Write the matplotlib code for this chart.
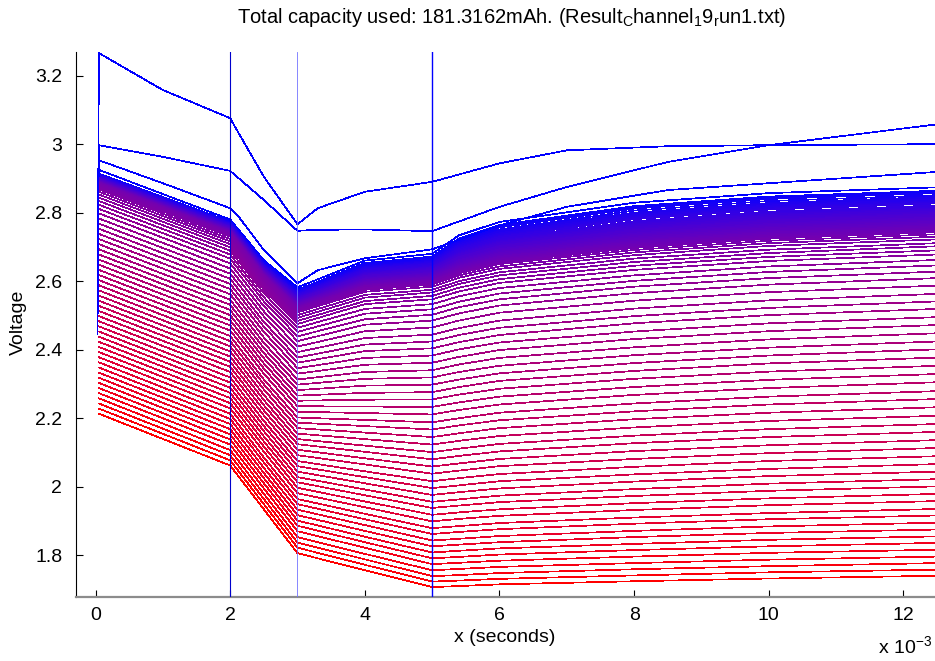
import numpy as np
import matplotlib.pyplot as plt

plt.rcParams["font.family"] = ["Liberation Sans", "DejaVu Sans"]

# sample times of the pulse curves (ms)
t_band = [0.05, 2.0, 2.5, 3.0, 4.0, 5.0, 5.4, 6.0, 8.0, 10.0, 12.5]

# voltage of each pulse curve at those times, first cycle (blue) to last (red)
v_start = [2.925, 2.914, 2.913, 2.912, 2.911, 2.910, 2.909, 2.908, 2.907, 2.906,
           2.905, 2.904, 2.903, 2.902, 2.901, 2.900, 2.899, 2.898, 2.897, 2.896,
           2.895, 2.894, 2.893, 2.892, 2.891, 2.890, 2.889, 2.888, 2.887, 2.886,
           2.883, 2.879, 2.874, 2.868, 2.861, 2.853, 2.844, 2.834, 2.823, 2.811,
           2.798, 2.783, 2.768, 2.753, 2.738, 2.723, 2.708, 2.693, 2.678, 2.663,
           2.648, 2.633, 2.618, 2.603, 2.588, 2.573, 2.558, 2.543, 2.528, 2.513,
           2.498, 2.483, 2.468, 2.453, 2.438, 2.423, 2.408, 2.393, 2.378, 2.363,
           2.348, 2.333, 2.318, 2.303, 2.288, 2.273, 2.258, 2.243, 2.228, 2.213]
v_2ms = [2.780, 2.774, 2.773, 2.772, 2.770, 2.769, 2.768, 2.767, 2.766, 2.765,
         2.764, 2.762, 2.761, 2.760, 2.759, 2.758, 2.757, 2.756, 2.754, 2.753,
         2.752, 2.751, 2.750, 2.749, 2.748, 2.747, 2.745, 2.744, 2.743, 2.742,
         2.739, 2.735, 2.730, 2.723, 2.716, 2.708, 2.699, 2.689, 2.678, 2.666,
         2.652, 2.637, 2.622, 2.607, 2.592, 2.577, 2.562, 2.546, 2.531, 2.516,
         2.501, 2.486, 2.471, 2.456, 2.440, 2.425, 2.410, 2.395, 2.380, 2.365,
         2.350, 2.335, 2.319, 2.304, 2.289, 2.274, 2.259, 2.244, 2.229, 2.213,
         2.198, 2.183, 2.168, 2.153, 2.138, 2.123, 2.107, 2.092, 2.077, 2.062]
v_2p5ms = [2.661, 2.655, 2.654, 2.653, 2.650, 2.649, 2.648, 2.647, 2.646, 2.644,
           2.644, 2.641, 2.640, 2.639, 2.638, 2.637, 2.635, 2.635, 2.632, 2.631,
           2.630, 2.629, 2.628, 2.626, 2.625, 2.624, 2.622, 2.621, 2.619, 2.619,
           2.615, 2.611, 2.606, 2.599, 2.592, 2.583, 2.575, 2.565, 2.553, 2.541,
           2.527, 2.512, 2.497, 2.481, 2.467, 2.452, 2.436, 2.420, 2.405, 2.390,
           2.375, 2.360, 2.345, 2.330, 2.313, 2.299, 2.284, 2.268, 2.253, 2.238,
           2.223, 2.208, 2.192, 2.177, 2.162, 2.147, 2.132, 2.117, 2.102, 2.085,
           2.071, 2.055, 2.040, 2.025, 2.010, 1.995, 1.979, 1.964, 1.949, 1.934]
v_3ms = [2.582, 2.575, 2.574, 2.572, 2.569, 2.567, 2.566, 2.564, 2.562, 2.560,
         2.559, 2.556, 2.554, 2.552, 2.551, 2.549, 2.547, 2.546, 2.543, 2.541,
         2.539, 2.538, 2.536, 2.534, 2.532, 2.531, 2.528, 2.526, 2.524, 2.523,
         2.519, 2.514, 2.509, 2.501, 2.493, 2.484, 2.475, 2.464, 2.452, 2.439,
         2.425, 2.409, 2.393, 2.377, 2.362, 2.346, 2.330, 2.313, 2.298, 2.282,
         2.266, 2.251, 2.235, 2.219, 2.202, 2.187, 2.171, 2.155, 2.139, 2.124,
         2.108, 2.092, 2.075, 2.060, 2.044, 2.028, 2.013, 1.997, 1.981, 1.964,
         1.949, 1.933, 1.917, 1.901, 1.886, 1.870, 1.853, 1.837, 1.822, 1.806]
v_4ms = [2.660, 2.653, 2.652, 2.649, 2.645, 2.642, 2.641, 2.638, 2.636, 2.634,
         2.632, 2.628, 2.625, 2.623, 2.621, 2.619, 2.616, 2.615, 2.611, 2.608,
         2.606, 2.604, 2.602, 2.599, 2.597, 2.595, 2.591, 2.589, 2.586, 2.585,
         2.580, 2.575, 2.569, 2.560, 2.552, 2.542, 2.533, 2.519, 2.505, 2.489,
         2.473, 2.454, 2.434, 2.415, 2.396, 2.376, 2.356, 2.335, 2.315, 2.295,
         2.274, 2.254, 2.234, 2.215, 2.195, 2.177, 2.158, 2.139, 2.120, 2.102,
         2.083, 2.065, 2.045, 2.028, 2.010, 1.992, 1.975, 1.957, 1.940, 1.921,
         1.905, 1.888, 1.871, 1.854, 1.838, 1.822, 1.804, 1.788, 1.772, 1.756]
v_5ms = [2.680, 2.672, 2.671, 2.668, 2.664, 2.661, 2.660, 2.657, 2.654, 2.652,
         2.650, 2.646, 2.643, 2.641, 2.639, 2.636, 2.633, 2.632, 2.628, 2.625,
         2.623, 2.621, 2.618, 2.615, 2.613, 2.611, 2.607, 2.605, 2.602, 2.600,
         2.595, 2.590, 2.584, 2.575, 2.567, 2.557, 2.547, 2.533, 2.518, 2.502,
         2.485, 2.465, 2.444, 2.424, 2.404, 2.383, 2.362, 2.340, 2.319, 2.298,
         2.276, 2.255, 2.233, 2.211, 2.188, 2.167, 2.145, 2.123, 2.101, 2.080,
         2.059, 2.038, 2.016, 1.996, 1.976, 1.956, 1.938, 1.918, 1.899, 1.879,
         1.862, 1.843, 1.826, 1.808, 1.791, 1.774, 1.756, 1.739, 1.723, 1.707]
v_5p4ms = [2.734, 2.725, 2.723, 2.719, 2.714, 2.710, 2.708, 2.704, 2.700, 2.697,
           2.694, 2.689, 2.685, 2.682, 2.679, 2.676, 2.671, 2.670, 2.665, 2.661,
           2.658, 2.655, 2.652, 2.648, 2.645, 2.642, 2.637, 2.635, 2.631, 2.628,
           2.623, 2.617, 2.610, 2.600, 2.592, 2.581, 2.570, 2.556, 2.540, 2.524,
           2.506, 2.485, 2.463, 2.443, 2.422, 2.401, 2.379, 2.357, 2.335, 2.313,
           2.291, 2.269, 2.246, 2.224, 2.200, 2.179, 2.156, 2.134, 2.111, 2.090,
           2.068, 2.047, 2.025, 2.004, 1.984, 1.963, 1.945, 1.925, 1.906, 1.885,
           1.868, 1.848, 1.831, 1.813, 1.795, 1.778, 1.760, 1.742, 1.726, 1.710]
v_6ms = [2.773, 2.764, 2.762, 2.757, 2.751, 2.747, 2.745, 2.740, 2.736, 2.732,
         2.729, 2.724, 2.719, 2.716, 2.713, 2.709, 2.704, 2.702, 2.697, 2.693,
         2.689, 2.686, 2.682, 2.678, 2.674, 2.671, 2.666, 2.663, 2.659, 2.655,
         2.650, 2.643, 2.636, 2.626, 2.617, 2.606, 2.595, 2.580, 2.564, 2.547,
         2.529, 2.508, 2.485, 2.464, 2.443, 2.421, 2.399, 2.376, 2.353, 2.331,
         2.309, 2.286, 2.263, 2.240, 2.216, 2.194, 2.171, 2.148, 2.125, 2.103,
         2.081, 2.060, 2.037, 2.016, 1.995, 1.974, 1.955, 1.934, 1.915, 1.894,
         1.876, 1.856, 1.838, 1.820, 1.802, 1.784, 1.766, 1.748, 1.731, 1.715]
v_8ms = [2.829, 2.819, 2.817, 2.812, 2.806, 2.800, 2.798, 2.793, 2.788, 2.784,
         2.781, 2.775, 2.770, 2.766, 2.762, 2.757, 2.752, 2.749, 2.744, 2.739,
         2.735, 2.732, 2.727, 2.722, 2.718, 2.715, 2.710, 2.706, 2.701, 2.697,
         2.691, 2.684, 2.676, 2.666, 2.656, 2.645, 2.633, 2.617, 2.601, 2.584,
         2.565, 2.543, 2.520, 2.498, 2.477, 2.453, 2.431, 2.407, 2.384, 2.361,
         2.338, 2.315, 2.291, 2.268, 2.243, 2.220, 2.197, 2.173, 2.149, 2.127,
         2.104, 2.081, 2.058, 2.036, 2.015, 1.993, 1.973, 1.952, 1.932, 1.910,
         1.892, 1.871, 1.853, 1.833, 1.815, 1.796, 1.777, 1.759, 1.741, 1.724]
v_10ms = [2.857, 2.847, 2.845, 2.840, 2.834, 2.828, 2.826, 2.821, 2.816, 2.812,
          2.809, 2.803, 2.798, 2.794, 2.790, 2.785, 2.780, 2.777, 2.772, 2.767,
          2.763, 2.759, 2.755, 2.750, 2.746, 2.742, 2.737, 2.733, 2.728, 2.724,
          2.718, 2.711, 2.703, 2.692, 2.682, 2.671, 2.659, 2.643, 2.627, 2.609,
          2.590, 2.568, 2.544, 2.522, 2.501, 2.477, 2.454, 2.430, 2.406, 2.383,
          2.360, 2.336, 2.312, 2.288, 2.263, 2.240, 2.216, 2.192, 2.168, 2.145,
          2.121, 2.098, 2.075, 2.052, 2.031, 2.009, 1.988, 1.966, 1.946, 1.923,
          1.905, 1.884, 1.865, 1.845, 1.826, 1.807, 1.787, 1.768, 1.750, 1.732]
v_end = [2.874, 2.864, 2.862, 2.857, 2.851, 2.846, 2.844, 2.839, 2.834, 2.830,
         2.827, 2.821, 2.816, 2.812, 2.809, 2.804, 2.799, 2.796, 2.791, 2.786,
         2.782, 2.778, 2.774, 2.769, 2.765, 2.761, 2.756, 2.752, 2.747, 2.743,
         2.737, 2.730, 2.722, 2.711, 2.702, 2.690, 2.678, 2.662, 2.646, 2.628,
         2.609, 2.587, 2.563, 2.541, 2.519, 2.495, 2.472, 2.448, 2.424, 2.401,
         2.377, 2.353, 2.329, 2.305, 2.279, 2.256, 2.232, 2.207, 2.183, 2.160,
         2.136, 2.113, 2.089, 2.066, 2.044, 2.022, 2.001, 1.979, 1.958, 1.935,
         1.916, 1.895, 1.875, 1.855, 1.836, 1.816, 1.796, 1.777, 1.758, 1.740]

# the first three cycles, which sit above the bundle
t_first = [0.03, 0.05, 1.0, 2.0, 2.1, 2.5, 3.0, 3.3, 4.0, 5.0, 6.0, 7.0, 8.5, 10.0, 12.5]
v_cycle1 = [2.445, 3.266, 3.158, 3.076, 3.041, 2.905, 2.766, 2.813, 2.861, 2.890,
            2.944, 2.982, 2.994, 2.997, 3.000]
v_cycle2 = [2.600, 2.997, 2.963, 2.922, 2.905, 2.837, 2.747, 2.750, 2.751, 2.746,
            2.817, 2.875, 2.948, 2.997, 3.058]
v_cycle3 = [2.700, 2.953, 2.886, 2.813, 2.795, 2.691, 2.594, 2.632, 2.667, 2.693,
            2.763, 2.817, 2.866, 2.886, 2.919]

# pulse phase markers (ms)
phase_marks = [2.0, 3.0, 5.0]

fig = plt.figure(figsize=(9.35, 6.61), dpi=100)
ax = fig.add_axes([0.0813, 0.0968, 0.9187, 0.8245])

tb = np.array(t_band) * 1e-3
band = np.array([v_start, v_2ms, v_2p5ms, v_3ms, v_4ms, v_5ms, v_5p4ms,
                 v_6ms, v_8ms, v_10ms, v_end]).T
n = len(band)
for i, row in enumerate(band):
    f = i / (n - 1)
    ax.plot(tb, row, color=(f ** 0.8, 0, (1 - f) ** 0.8), lw=0.5, antialiased=False)

tf = np.array(t_first) * 1e-3
for v in [v_cycle1, v_cycle2, v_cycle3]:
    ax.plot(tf, v, color=(0, 0, 1), lw=0.5, antialiased=False)

mark_colors = [(0, 0, 0.8), (0.45, 0.45, 1.0), (0, 0, 1)]
mark_widths = [0.8, 0.6, 1.0]
for m, c, w in zip(phase_marks, mark_colors, mark_widths):
    ax.axvline(m * 1e-3, color=c, lw=w, zorder=5)

ax.set_xlim(-0.29e-3, 12.47e-3)
ax.set_ylim(1.678, 3.269)

xt = np.arange(0, 13, 2)
ax.set_xticks(xt * 1e-3)
ax.set_xticklabels([str(k) for k in xt])
yt = [1.8, 2.0, 2.2, 2.4, 2.6, 2.8, 3.0, 3.2]
ax.set_yticks(yt)
ax.set_yticklabels(["1.8", "2", "2.2", "2.4", "2.6", "2.8", "3", "3.2"])

fs = 14
ax.spines["top"].set_visible(False)
ax.spines["right"].set_visible(False)
ax.spines["left"].set_linewidth(0.8)
ax.spines["bottom"].set_color("#8c8c8c")
ax.spines["bottom"].set_linewidth(1.6)
ax.tick_params(direction="in", length=5, width=0.8, labelsize=fs, color="black")
ax.tick_params(axis="x", pad=7)
ax.tick_params(axis="y", pad=10)

fig.text(0.5476, 0.9728,
         r"Total capacity used: 181.3162mAh. (Result$_\mathregular{C}$hannel$_\mathregular{1}$9$_\mathregular{r}$un1.txt)",
         ha="center", va="center", fontsize=14.5)
fig.text(0.540, 0.036, "x (seconds)", ha="center", va="center", fontsize=fs)
fig.text(0.0193, 0.513, "Voltage", rotation=90, ha="center", va="center", fontsize=fs)
fig.text(0.997, 0.004, r"x 10$^\mathregular{-3}$", ha="right", va="bottom", fontsize=fs)

fig.savefig("out.png", dpi=100)
